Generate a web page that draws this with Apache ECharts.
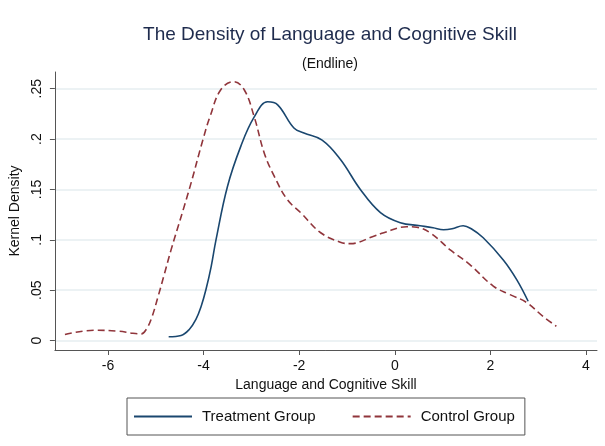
<!DOCTYPE html>
<html>
<head>
<meta charset="utf-8">
<script src="https://cdn.jsdelivr.net/npm/echarts@6/dist/echarts.min.js"></script>
<style>html,body{margin:0;padding:0;background:#fff}#c{width:605px;height:446px}</style>
</head>
<body>
<div id="c"></div>
<script>
var titleText = 'The Density of Language and Cognitive Skill';
var subtitleText = '(Endline)';
var xTitle = 'Language and Cognitive Skill';
var yTitle = 'Kernel Density';
var seriesNames = ['Treatment Group', 'Control Group'];
var xTicks = [-6, -4, -2, 0, 2, 4];
var yTicks = [0, 0.05, 0.1, 0.15, 0.2, 0.25];

var treatX = [-4.73, -4.47, -4.30, -4.16, -4.05, -3.95, -3.84, -3.74, -3.50, -3.22, -2.94, -2.66, -2.45, -2.11, -1.90, -1.52, -1.14, -0.72, -0.30, 0.115, 0.53, 0.80, 1.02, 1.20, 1.43, 1.60, 1.85, 2.27, 2.55, 2.79];
var treatY = [0.0037, 0.005, 0.011, 0.021, 0.034, 0.0506, 0.0737, 0.100, 0.153, 0.193, 0.222, 0.237, 0.234, 0.211, 0.206, 0.199, 0.180, 0.150, 0.127, 0.117, 0.114, 0.112, 0.110, 0.111, 0.114, 0.111, 0.102, 0.080, 0.0605, 0.039];

var ctrlX = [-6.90, -6.27, -5.79, -5.48, -5.30, -5.20, -5.09, -4.95, -4.82, -4.68, -4.30, -4.01, -3.86, -3.64, -3.37, -3.15, -2.94, -2.73, -2.52, -2.25, -1.97, -1.55, -1.14, -0.93, -0.44, -0.23, 0.25, 0.46, 0.74, 1.16, 1.57, 2.06, 2.41, 2.75, 3.10, 3.38];
var ctrlY = [0.006, 0.0102, 0.0093, 0.0072, 0.0066, 0.011, 0.022, 0.044, 0.066, 0.090, 0.150, 0.200, 0.223, 0.249, 0.257, 0.249, 0.222, 0.186, 0.163, 0.140, 0.127, 0.107, 0.0976, 0.0962, 0.1035, 0.107, 0.113, 0.1124, 0.107, 0.090, 0.0754, 0.054, 0.0456, 0.038, 0.024, 0.0142];

function pairs(xs, ys) { return xs.map(function (x, i) { return [x, ys[i]]; }); }
function fmtY(v) {
  if (v === 0) return '0';
  return String(Math.round(v * 100) / 100).replace(/^0\./, '.');
}

var font = "'Liberation Sans', Arial, sans-serif";
var axisCol = '#555555';
var chart = echarts.init(document.getElementById('c'), null, {renderer: 'canvas'});
chart.setOption({
  backgroundColor: '#ffffff',
  animation: false,
  title: [
    {text: titleText, left: 325, top: 20, textAlign: 'center',
     textStyle: {fontFamily: font, fontSize: 19, fontWeight: 'normal', color: '#1e2b4d'}},
    {text: subtitleText, left: 325, top: 52, textAlign: 'center',
     textStyle: {fontFamily: font, fontSize: 14, fontWeight: 'normal', color: '#111111'}}
  ],
  legend: {
    left: 127, top: 398,
    orient: 'horizontal',
    itemWidth: 58, itemHeight: 14, itemGap: 36,
    padding: [11, 10, 11, 6],
    borderColor: '#555555', borderWidth: 1,
    itemStyle: {opacity: 0},
    textStyle: {fontFamily: font, fontSize: 15, color: '#111111', padding: [0, 0, 0, 5]},
    data: seriesNames
  },
  grid: {left: 53, right: 8, top: 72, bottom: 96, containLabel: false},
  xAxis: {
    type: 'value', min: -7.11, max: 4.23,
    name: xTitle, nameLocation: 'middle', nameGap: 25,
    nameTextStyle: {fontFamily: font, fontSize: 14, color: '#111111'},
    axisLine: {show: true, onZero: false, lineStyle: {color: axisCol, width: 1}},
    axisTick: {show: true, length: 5, lineStyle: {color: axisCol}, customValues: xTicks},
    axisLabel: {fontFamily: font, fontSize: 14, color: '#111111', margin: 9, customValues: xTicks,
                formatter: function (v) { return String(v); }},
    splitLine: {show: false}
  },
  yAxis: {
    type: 'value', min: -0.0094, max: 0.2666,
    name: yTitle, nameLocation: 'middle', nameGap: 29,
    nameTextStyle: {fontFamily: font, fontSize: 14, color: '#111111'},
    axisLine: {show: true, onZero: false, lineStyle: {color: axisCol, width: 1}},
    axisTick: {show: true, length: 5, lineStyle: {color: axisCol}, customValues: yTicks},
    axisLabel: {fontFamily: font, fontSize: 14, color: '#111111', margin: 11, rotate: 90, customValues: yTicks,
                formatter: fmtY},
    splitLine: {show: true, lineStyle: {color: '#e6eef0', width: 1.5}}
  },
  series: [
    {name: seriesNames[0], type: 'line', data: pairs(treatX, treatY), smooth: 0.4, symbol: 'none',
     lineStyle: {color: '#1a476f', width: 1.6}, itemStyle: {color: '#1a476f'}},
    {name: seriesNames[1], type: 'line', data: pairs(ctrlX, ctrlY), smooth: 0.4, symbol: 'none',
     lineStyle: {color: '#90353b', width: 1.6, type: [7, 4]}, itemStyle: {color: '#90353b'}}
  ]
});
</script>
</body>
</html>
